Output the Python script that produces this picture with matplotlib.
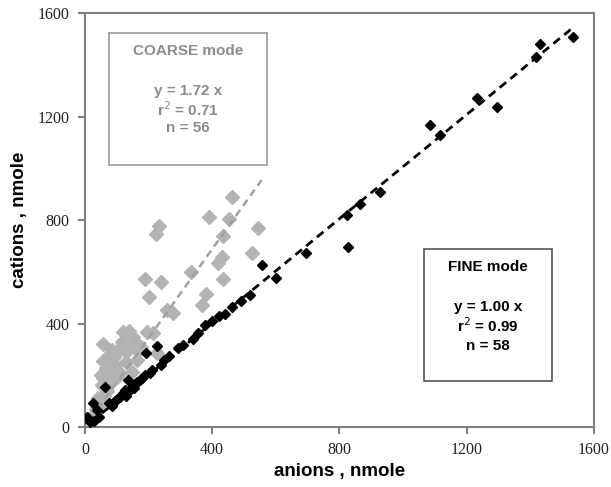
import matplotlib.pyplot as plt
from matplotlib.patches import Rectangle

# FINE mode (black) points, nmole
fine_anions = [1534, 1431, 1418, 1232, 1295, 1085, 1116, 927, 865, 824, 827, 695,
               557, 600, 490, 462, 440, 377, 355, 308, 292, 264, 226, 192, 204, 173,
               135, 63, 126, 110, 88, 25, 38, 16, 6, 150, 160, 145, 120, 100, 140,
               180, 165, 155, 130, 95, 85, 210, 240, 250, 340, 400, 420, 520, 45,
               30, 75, 190]
fine_cations = [1507, 1480, 1430, 1272, 1237, 1167, 1129, 908, 862, 819, 696, 673,
                626, 576, 487, 464, 437, 394, 363, 317, 305, 274, 313, 286, 209, 182,
                182, 155, 143, 116, 93, 93, 66, 19, 39, 160, 170, 150, 130, 110, 140,
                190, 175, 150, 120, 100, 80, 220, 240, 260, 340, 410, 430, 510, 40,
                25, 95, 200]

# COARSE mode (grey) points, nmole
coarse_anions = [462, 390, 453, 544, 233, 223, 434, 525, 431, 418, 333, 189, 239,
                 434, 201, 380, 368, 258, 277, 119, 138, 195, 214, 151, 57, 160, 85,
                 104, 129, 167, 226, 57, 94, 163, 85, 148, 57, 100, 53, 41, 30, 45,
                 70, 80, 110, 65, 130, 90, 115, 140, 175, 60, 20, 35, 75, 50]
coarse_cations = [889, 812, 804, 769, 777, 746, 738, 672, 657, 634, 599, 572, 560,
                  572, 502, 514, 472, 452, 440, 367, 371, 367, 363, 348, 321, 325, 298,
                  298, 290, 294, 286, 255, 240, 259, 213, 213, 189, 193, 162, 112, 50,
                  80, 140, 170, 210, 230, 250, 270, 330, 300, 310, 120, 30, 70, 280,
                  200]

coarse_slope = 1.72
fine_slope = 1.00

fig = plt.figure(figsize=(6.11, 4.87), dpi=100)
ax = fig.add_axes([0.139, 0.123, 0.833, 0.850])

ax.plot(coarse_anions, coarse_cations, 'D', ms=7, color='#b3b3b3', mec='#b3b3b3', zorder=2)
ax.plot([40, 555], [40 * coarse_slope, 555 * coarse_slope], ls=(0, (3, 2)),
        color='#a0a0a0', lw=1.8, zorder=3)
ax.plot(fine_anions, fine_cations, 'D', ms=5.5, color='black', zorder=4)
ax.plot([20, 1535], [20 * fine_slope, 1545 * fine_slope], ls=(0, (3, 2)),
        color='black', lw=2.0, zorder=5)

ax.set_xlim(0, 1600)
ax.set_ylim(0, 1600)
ax.set_xticks([0, 400, 800, 1200, 1600])
ax.set_yticks([0, 400, 800, 1200, 1600])
for s in ax.spines.values():
    s.set_color('#808080')
    s.set_linewidth(1.5)
ax.tick_params(direction='out', length=5, width=1.5, color='#808080',
               labelsize=11.5, labelcolor='#222222', pad=6)
for lab in ax.get_xticklabels() + ax.get_yticklabels():
    lab.set_family('Liberation Serif')

ax.set_xlabel('anions , nmole', fontsize=13.5, fontweight='bold',
              family='Liberation Sans', labelpad=3)
ax.set_ylabel('cations , nmole', fontsize=13.5, fontweight='bold',
              family='Liberation Sans', labelpad=7)

# annotation boxes
ax.add_patch(Rectangle((0.047, 0.633), 0.311, 0.319, transform=ax.transAxes,
                       fill=False, ec='#999999', lw=1.2, zorder=6))
ax.add_patch(Rectangle((0.666, 0.111), 0.251, 0.319, transform=ax.transAxes,
                       fc='white', ec='#555555', lw=1.2, zorder=6))

gkw = dict(transform=ax.transAxes, ha='center', va='center', fontsize=11,
           fontweight='bold', family='Liberation Sans', zorder=7)
ax.text(0.202, 0.908, 'COARSE mode', color='#8c8c8c', **gkw)
ax.text(0.202, 0.812, 'y = 1.72 x', color='#8c8c8c', **gkw)
ax.text(0.202, 0.768, 'r$^2$ = 0.71', color='#8c8c8c', **gkw)
ax.text(0.202, 0.722, 'n = 56', color='#8c8c8c', **gkw)

ax.text(0.792, 0.386, 'FINE mode', color='black', **gkw)
ax.text(0.792, 0.290, 'y = 1.00 x', color='black', **gkw)
ax.text(0.792, 0.244, 'r$^2$ = 0.99', color='black', **gkw)
ax.text(0.792, 0.196, 'n = 58', color='black', **gkw)

fig.savefig('out.png', dpi=100)
